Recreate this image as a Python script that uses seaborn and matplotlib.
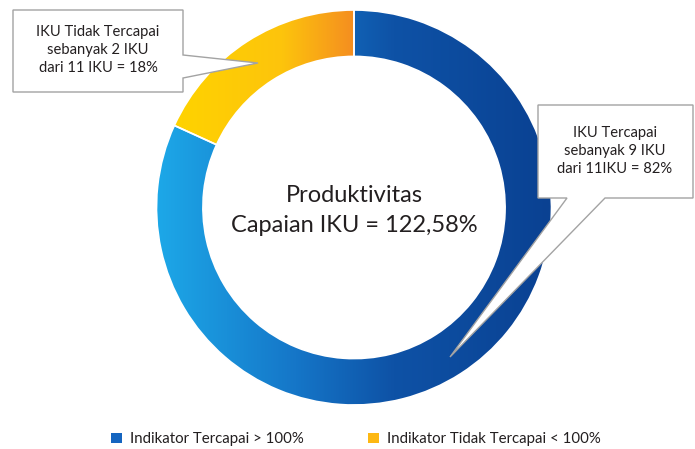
import numpy as np
import matplotlib
matplotlib.use("Agg")
import matplotlib.pyplot as plt
import seaborn as sns
from matplotlib.colors import LinearSegmentedColormap
from matplotlib.patches import Polygon, Patch

# ---- data ----
categories = ["Indikator Tercapai > 100%", "Indikator Tidak Tercapai < 100%"]
iku_counts = [9, 2]
center_title = "Produktivitas"
center_value = "Capaian IKU = 122,58%"
callout_left = "IKU Tidak Tercapai\nsebanyak 2 IKU\ndari 11 IKU = 18%"
callout_right = "IKU Tercapai\nsebanyak 9 IKU\ndari 11IKU = 82%"

sns.set_theme(style="white")
plt.rcParams['font.family'] = ['Lato', 'DejaVu Sans']

W, H = 695, 449
fig = plt.figure(figsize=(W / 100, H / 100), dpi=100)
ax = fig.add_axes([0, 0, 1, 1])

def Y(y):
    return H - y

cx, cy, R = 354, Y(207.5), 197.5
ring = 0.235

wedges, _ = ax.pie(iku_counts, startangle=90, counterclock=False, center=(cx, cy),
                   radius=R, colors=["#1565C0", "#FDB813"],
                   wedgeprops=dict(width=R * ring, edgecolor="white", linewidth=1.2),
                   frame=True)
ax.set_xlim(0, W)
ax.set_ylim(0, H)
ax.set_aspect('equal')
ax.axis('off')

blue_cmap = LinearSegmentedColormap.from_list(
    "b", [(0.0, "#1DA8E8"), (0.35, "#1576C8"), (0.6, "#0E52A6"), (1.0, "#0A4192")])
yellow_cmap = LinearSegmentedColormap.from_list(
    "y", [(0.0, "#FFD300"), (0.6, "#FDC40C"), (1.0, "#F58E20")])

grad = np.linspace(0, 1, 256).reshape(1, -1)
ext_b = (cx - R, cx + R, cy - R, cy + R)
imb = ax.imshow(grad, cmap=blue_cmap, extent=ext_b, aspect='auto', zorder=2)
imb.set_clip_path(wedges[0])
ext_y = (175, cx, cy, cy + R)
imy = ax.imshow(grad, cmap=yellow_cmap, extent=ext_y, aspect='auto', zorder=2)
imy.set_clip_path(wedges[1])
for w in wedges:
    w.set_zorder(3)
    w.set_facecolor("none")
ax.set_xlim(0, W)
ax.set_ylim(0, H)

txtc = "#231F20"
ax.text(cx, Y(195), center_title, ha='center', va='center', fontsize=17, color=txtc, zorder=5)
ax.text(cx, Y(226), center_value, ha='center', va='center', fontsize=17, color=txtc, zorder=5)

# callouts
edge = "#A3A3A3"
left_poly = [(13, 10), (183, 10), (183, 55), (258, 63), (183, 78), (183, 92), (13, 92)]
right_poly = [(538, 105), (693, 105), (693, 198), (605, 198), (450, 357), (567, 198), (538, 198)]
for pts in (left_poly, right_poly):
    ax.add_patch(Polygon([(x, Y(y)) for x, y in pts], closed=True, facecolor="white",
                         edgecolor=edge, linewidth=1.0, zorder=6))

ax.text(98, Y(50), callout_left, ha='center', va='center', fontsize=10.6,
        color=txtc, linespacing=1.4, zorder=7)
ax.text(615, Y(151), callout_right, ha='center', va='center', fontsize=10.6,
        color=txtc, linespacing=1.4, zorder=7)

handles = [Patch(facecolor="#1565C0", edgecolor="none"), Patch(facecolor="#FDB813", edgecolor="none")]
ax.legend(handles, categories, loc='center', bbox_to_anchor=(356 / W, 1 - 439 / H),
          ncol=2, frameon=False, fontsize=10.8, handlelength=0.7, handleheight=0.7,
          handletextpad=0.55, columnspacing=4.3, labelcolor=txtc)

fig.savefig("out.png", dpi=100)
